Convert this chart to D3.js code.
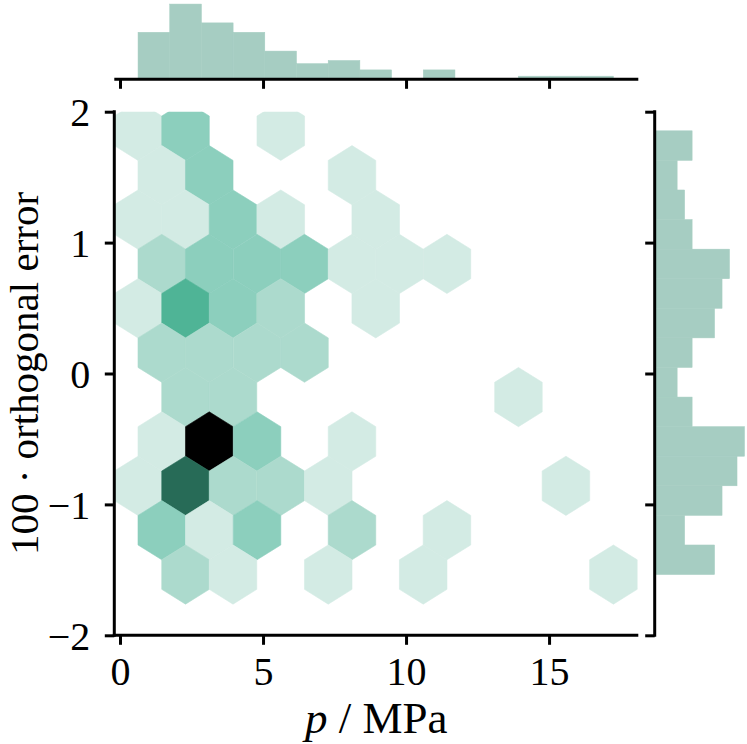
<!DOCTYPE html>
<html>
<head>
<meta charset="utf-8">
<script src="https://cdn.jsdelivr.net/npm/d3@7"></script>
<style>
  html, body { margin: 0; padding: 0; background: #fff; }
  svg { display: block; }
  text { font-family: "Liberation Serif", "Times New Roman", serif; fill: #000; }
</style>
</head>
<body>
<script>
// ---------------- data ----------------
const xTicks = [0, 5, 10, 15];
const yTicks = [2, 1, 0, -1, -2];
const xLabel = "MPa";
const yLabel = "100 · orthogonal error";

// hexbin grid (data units)
const hexStep = [1.662, 0.678];

// occupied hex cells: centres (data units) and counts
const hexX = [
  0.63, 2.29, 5.62,
  1.46, 3.12, 8.11,
  0.63, 2.29, 3.95, 5.62, 8.94,
  1.46, 3.12, 4.79, 6.45, 8.11, 9.77, 11.43,
  0.63, 2.29, 3.95, 5.62, 8.94,
  1.46, 3.12, 4.79, 6.45,
  2.29, 3.95, 13.93,
  1.46, 3.12, 4.79, 8.11,
  0.63, 2.29, 3.95, 5.62, 7.28, 15.59,
  1.46, 3.12, 4.79, 8.11, 11.43,
  2.29, 3.95, 7.28, 10.6, 17.25
];
const hexY = [
  1.854, 1.854, 1.854,
  1.515, 1.515, 1.515,
  1.176, 1.176, 1.176, 1.176, 1.176,
  0.837, 0.837, 0.837, 0.837, 0.837, 0.837, 0.837,
  0.498, 0.498, 0.498, 0.498, 0.498,
  0.159, 0.159, 0.159, 0.159,
  -0.18, -0.18, -0.18,
  -0.519, -0.519, -0.519, -0.519,
  -0.858, -0.858, -0.858, -0.858, -0.858, -0.858,
  -1.197, -1.197, -1.197, -1.197, -1.197,
  -1.536, -1.536, -1.536, -1.536, -1.536
];
const hexCount = [
  1, 3, 1,
  1, 3, 1,
  1, 1, 3, 1, 1,
  2, 3, 3, 3, 1, 1, 1,
  1, 4, 3, 2, 1,
  2, 2, 2, 2,
  2, 2, 1,
  1, 8, 3, 1,
  1, 6, 2, 2, 1, 1,
  3, 1, 3, 2, 1,
  2, 1, 1, 1, 1
];

// marginal histograms
const xHistRange = [0.63, 17.25];
const xHistCounts = [15, 24, 18, 15, 9, 5, 6, 3, 0, 3, 0, 0, 1, 1, 1];
const yHistRange = [-1.536, 1.854];
const yHistCounts = [8, 4, 9, 11, 12, 5, 3, 5, 8, 9, 10, 5, 4, 3, 5]; // bottom to top

// ---------------- layout ----------------
const W = 747, H = 744;
const main = { left: 114.3, right: 638.3, top: 111.7, bottom: 635.3 };
const topAx = { base: 79.3, top: 0.3 };
const rightAx = { base: 654.7, right: 749 };
const spineW = 3, tickLen = 9.5;
const tickFont = 40, labelFont = 41, xLabelFont = 45;
const histColor = "#a6cdc2";
const hexColors = ["#d3ebe4", "#acdacd", "#8ccfbd", "#4fb496", "#276b57", "#000000"];
const hexColorDomain = [1, 2, 3, 4, 6, 8];

const svg = d3.select("body").append("svg").attr("width", W).attr("height", H);

const x = d3.scaleLinear().domain([-0.2, 18.12]).range([main.left, main.right]);
const y = d3.scaleLinear().domain([-2, 2]).range([main.bottom, main.top]);
const color = d3.scaleLinear().domain(hexColorDomain).range(hexColors);

// ---------------- hexbin ----------------
svg.append("clipPath").attr("id", "mainclip").append("rect")
  .attr("x", main.left).attr("y", main.top)
  .attr("width", main.right - main.left).attr("height", main.bottom - main.top);

const hexOffsets = [[0.5, -0.5], [0.5, 0.5], [0, 1], [-0.5, 0.5], [-0.5, -0.5], [0, -1]];
const cells = hexX.map((cx, i) => ({ cx, cy: hexY[i], n: hexCount[i] }));
svg.append("g").attr("clip-path", "url(#mainclip)")
  .selectAll("path").data(cells).join("path")
  .attr("d", d => "M" + hexOffsets.map(o =>
      [x(d.cx + o[0] * hexStep[0]), y(d.cy + o[1] * hexStep[1] / 3)].join(",")).join("L") + "Z")
  .attr("fill", d => color(d.n))
  .attr("stroke", d => color(d.n))
  .attr("stroke-width", 0.6);

// ---------------- main axes ----------------
const xAxis = d3.axisBottom(x).tickValues(xTicks).tickSize(tickLen).tickSizeOuter(0)
  .tickFormat(d => d3.format("d")(d));
const gx = svg.append("g").attr("transform", `translate(0,${main.bottom})`).call(xAxis);
gx.select(".domain").remove();
gx.selectAll(".tick line").attr("stroke-width", spineW).attr("stroke", "#000");
gx.selectAll(".tick text").attr("y", 0).attr("dy", 0)
  .attr("transform", "translate(0,49.7)")
  .attr("font-size", tickFont).attr("font-family", "Liberation Serif");

const yAxis = d3.axisLeft(y).tickValues(yTicks).tickSize(tickLen).tickSizeOuter(0)
  .tickFormat(d => d < 0 ? "\u2212" + Math.abs(d) : String(d));
const gy = svg.append("g").attr("transform", `translate(${main.left},0)`).call(yAxis);
gy.select(".domain").remove();
gy.selectAll(".tick line").attr("stroke-width", spineW).attr("stroke", "#000");
gy.selectAll(".tick text").attr("x", -24).attr("dy", 0)
  .attr("transform", "translate(0,14)")
  .attr("font-size", tickFont).attr("font-family", "Liberation Serif");

// spines
svg.append("line").attr("x1", main.left).attr("x2", main.left)
  .attr("y1", main.top - spineW / 2).attr("y2", main.bottom + spineW / 2)
  .attr("stroke", "#000").attr("stroke-width", spineW);
svg.append("line").attr("x1", main.left - spineW / 2).attr("x2", main.right)
  .attr("y1", main.bottom).attr("y2", main.bottom)
  .attr("stroke", "#000").attr("stroke-width", spineW);

// ---------------- top marginal histogram ----------------
const xBinW = (xHistRange[1] - xHistRange[0]) / xHistCounts.length;
const hTop = d3.scaleLinear().domain([0, d3.max(xHistCounts) * 1.05]).range([topAx.base, topAx.top]);
svg.append("g").selectAll("rect").data(xHistCounts.map((c, i) => ({ c, i }))).join("rect")
  .filter(d => d.c > 0)
  .attr("x", d => x(xHistRange[0] + d.i * xBinW))
  .attr("width", d => x(xHistRange[0] + (d.i + 1) * xBinW) - x(xHistRange[0] + d.i * xBinW))
  .attr("y", d => hTop(d.c))
  .attr("height", d => hTop(0) - hTop(d.c))
  .attr("fill", histColor)
  .attr("stroke", histColor).attr("stroke-width", 0.5);

const gTop = svg.append("g").attr("transform", `translate(0,${topAx.base})`)
  .call(d3.axisBottom(x).tickValues(xTicks).tickSize(tickLen).tickSizeOuter(0).tickFormat(""));
gTop.select(".domain").remove();
gTop.selectAll(".tick line").attr("stroke-width", spineW).attr("stroke", "#000");
svg.append("line").attr("x1", main.left).attr("x2", main.right)
  .attr("y1", topAx.base).attr("y2", topAx.base)
  .attr("stroke", "#000").attr("stroke-width", spineW);

// ---------------- right marginal histogram ----------------
const yBinW = (yHistRange[1] - yHistRange[0]) / yHistCounts.length;
const wRight = d3.scaleLinear().domain([0, d3.max(yHistCounts) * 1.05]).range([rightAx.base, rightAx.right]);
svg.append("g").selectAll("rect").data(yHistCounts.map((c, i) => ({ c, i }))).join("rect")
  .filter(d => d.c > 0)
  .attr("x", wRight(0))
  .attr("width", d => wRight(d.c) - wRight(0))
  .attr("y", d => y(yHistRange[0] + (d.i + 1) * yBinW))
  .attr("height", d => y(yHistRange[0] + d.i * yBinW) - y(yHistRange[0] + (d.i + 1) * yBinW))
  .attr("fill", histColor)
  .attr("stroke", histColor).attr("stroke-width", 0.5);

const gRight = svg.append("g").attr("transform", `translate(${rightAx.base},0)`)
  .call(d3.axisLeft(y).tickValues(yTicks).tickSize(tickLen).tickSizeOuter(0).tickFormat(""));
gRight.select(".domain").remove();
gRight.selectAll(".tick line").attr("stroke-width", spineW).attr("stroke", "#000");
svg.append("line").attr("x1", rightAx.base).attr("x2", rightAx.base)
  .attr("y1", main.top - spineW / 2).attr("y2", main.bottom + spineW / 2)
  .attr("stroke", "#000").attr("stroke-width", spineW);

// ---------------- axis labels ----------------
const xl = svg.append("text")
  .attr("x", (main.left + main.right) / 2).attr("y", 732.7)
  .attr("text-anchor", "middle").attr("font-size", xLabelFont);
xl.append("tspan").attr("font-style", "italic").text("p");
xl.append("tspan").text(" / " + xLabel);

svg.append("text")
  .attr("transform", `translate(37.5,${(main.top + main.bottom) / 2}) rotate(-90)`)
  .attr("text-anchor", "middle").attr("font-size", labelFont)
  .text(yLabel);
</script>
</body>
</html>
